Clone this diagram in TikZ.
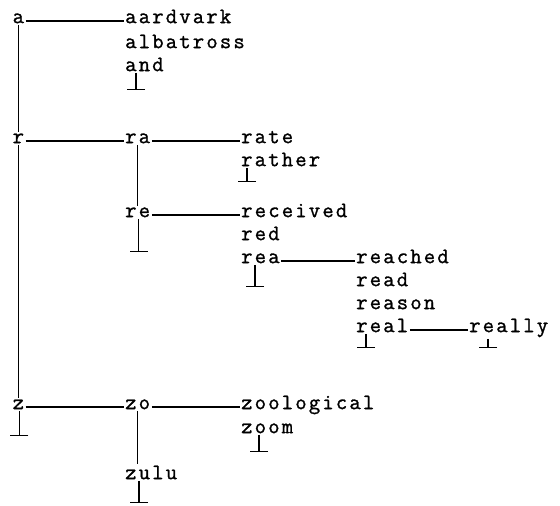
\documentclass[tikz,border=0pt]{standalone}
\usepackage{fontspec}
\newfontfamily\triefont[LetterSpace=10,FakeBold=1.2]{Latin Modern Mono}
\usetikzlibrary{arrows.meta}

\tikzset{
  word/.style={anchor=mid west, inner sep=1.5pt, font=\triefont\fontsize{22}{24}\selectfont},
  link/.style={line width=1.1pt},
  endmark/.style={line width=1.1pt, -{Bar[width=18pt,line width=1.3pt]}}
}

\begin{document}
\begin{tikzpicture}[x=1pt,y=-1pt]
\useasboundingbox (0,0) rectangle (560,506);
% first letter
\node[word] (a) at (11,21) {a};
\node[word] (r) at (11,141) {r};
\node[word] (z) at (11,407) {z};
\draw[link] (a.south) -- (r.north);
\draw[link] (r.south) -- (z.north);
\coordinate (zend) at (19.4,436);
\draw[endmark] (z.south -| zend) -- (zend);

% a
\node[word] (aardvark) at (123.5,21) {aardvark};
\node[word] (albatross) at (123.5,46) {albatross};
\node[word] (and) at (123.5,69) {and};
\draw[link] (a.mid east) -- (aardvark.mid west);
\coordinate (andend) at (136,90);
\draw[endmark] (and.south -| andend) -- (andend);

% r
\node[word] (ra) at (123.5,141) {ra};
\node[word] (re) at (123.5,215) {re};
\draw[link] (r.mid east) -- (ra.mid west);
\draw[link] (ra.south) -- (ra.south |- re.north);
\coordinate (reend) at (138.8,252);
\draw[endmark] (re.south -| reend) -- (reend);

\node[word] (rate) at (239.5,141) {rate};
\node[word] (rather) at (239.5,164) {rather};
\draw[link] (ra.mid east) -- (rate.mid west);
\coordinate (ratherend) at (247,182);
\draw[endmark] (rather.south -| ratherend) -- (ratherend);

\node[word] (received) at (239.5,215) {received};
\node[word] (red) at (239.5,238) {red};
\node[word] (rea) at (239.5,261) {rea};
\draw[link] (re.mid east) -- (received.mid west);
\coordinate (reaend) at (255,287);
\draw[endmark] (rea.south -| reaend) -- (reaend);

\node[word] (reached) at (354.5,261) {reached};
\node[word] (read) at (354.5,284) {read};
\node[word] (reason) at (354.5,307) {reason};
\node[word] (real) at (354.5,330) {real};
\draw[link] (rea.mid east) -- (reached.mid west);
\coordinate (realend) at (366,348);
\draw[endmark] (real.south -| realend) -- (realend);

\node[word] (really) at (467.5,330) {really};
\draw[link] (real.mid east) -- (really.mid west);
\coordinate (reallyend) at (488,348);
\draw[endmark] (really.south -| reallyend) -- (reallyend);

% z
\node[word] (zo) at (123.5,407) {zo};
\node[word] (zulu) at (123.5,477) {zulu};
\draw[link] (z.mid east) -- (zo.mid west);
\draw[link] (zo.south) -- (zo.south |- zulu.north);
\coordinate (zuluend) at (139,503);
\draw[endmark] (zulu.south -| zuluend) -- (zuluend);

\node[word] (zoological) at (239.5,407) {zoological};
\node[word] (zoom) at (239.5,431) {zoom};
\draw[link] (zo.mid east) -- (zoological.mid west);
\coordinate (zoomend) at (259,452);
\draw[endmark] (zoom.south -| zoomend) -- (zoomend);
\end{tikzpicture}
\end{document}
